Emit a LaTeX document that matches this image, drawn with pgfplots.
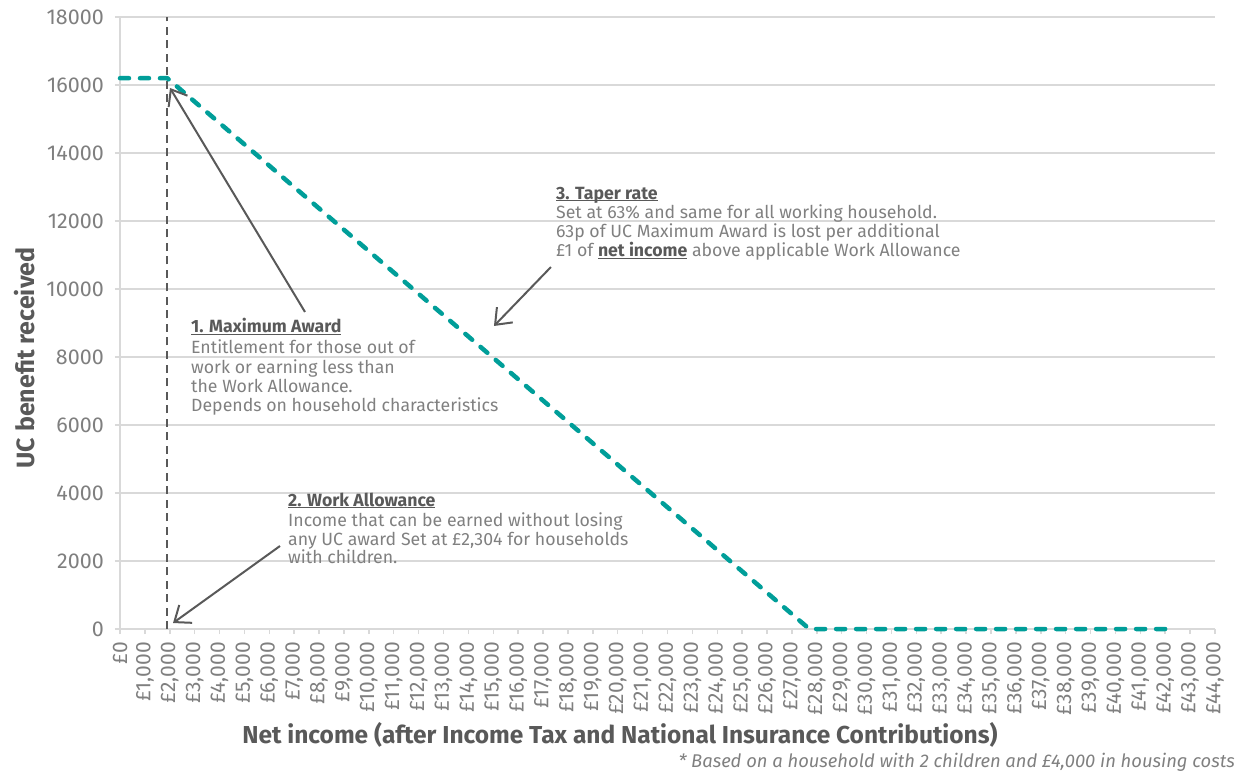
\documentclass[border=0pt]{standalone}
\usepackage{fontspec}
\setmainfont{Fira Sans}
\usepackage{pgfplots}
\pgfplotsset{compat=1.18}
\usetikzlibrary{arrows.meta}
\definecolor{tealc}{RGB}{0,158,153}
\definecolor{dgray}{RGB}{89,89,89}
\definecolor{lgray}{RGB}{217,217,217}
\definecolor{tgray}{RGB}{127,127,127}
\definecolor{bgray}{RGB}{128,128,128}
\newcommand{\ul}[1]{\setbox0\hbox{#1}\rlap{\rule[-2.2pt]{\wd0}{1.3pt}}\box0}
\newcommand{\bodyf}{\fontsize{17.7}{19.5}\selectfont}
\newcommand{\headf}{\fontsize{17.7}{19.5}\selectfont\bfseries}
\begin{document}
\begin{tikzpicture}
\begin{axis}[
  at={(0,0)}, anchor=south west,
  scale only axis, width=1095pt, height=612pt,
  xmin=0, xmax=44000, ymin=0, ymax=18000,
  xtick distance=1000, ytick distance=2000,
  scaled ticks=false,
  axis x line*=bottom, axis y line*=left,
  tick pos=left, tick align=outside,
  major tick length=5pt,
  axis line style={lgray, line width=1.5pt},
  tick style={lgray, line width=1.5pt},
  ymajorgrids, grid style={lgray, line width=1.5pt},
  /pgf/number format/assume math mode=true,
  xticklabel={£\pgfmathprintnumber{\tick}},
  xticklabel style={rotate=90, anchor=east, inner sep=0pt, text=tgray,
    font=\fontsize{21}{21}\selectfont,
    /pgf/number format/1000 sep={,}, /pgf/number format/fixed, /pgf/number format/precision=0},
  yticklabel style={anchor=east, inner sep=0pt, text=tgray,
    font=\fontsize{21.5}{21.5}\selectfont,
    /pgf/number format/1000 sep={}, /pgf/number format/fixed, /pgf/number format/precision=0},
  xticklabel shift=8pt, yticklabel shift=11pt,
  clip=false,
]
\addplot[dgray, line width=2.3pt, dash pattern=on 8pt off 5.5pt] coordinates {(1900,0) (1900,18000)};
\addplot[tealc, line width=4.5pt, dash pattern=on 9pt off 11pt, line cap=round, line join=round] coordinates {(0,16200) (1900,16200) (27700,0) (42000,0)};
\draw[dgray, line width=2pt, -{Straight Barb[length=14pt,width=22pt]}] (axis cs:7434,9324) -- (axis cs:2009,15912);
\draw[dgray, line width=2pt, -{Straight Barb[length=14pt,width=22pt]}] (axis cs:6429,2441) -- (axis cs:2130,176);
\draw[dgray, line width=2pt, -{Straight Barb[length=14pt,width=22pt]}] (axis cs:17318,10647) -- (axis cs:15028,8912);
\end{axis}
% annotation 1
\node[anchor=base west, inner sep=0pt, text=dgray, font=\headf] at (71pt,296pt) {\ul{1. Maximum Award}};
\node[anchor=base west, inner sep=0pt, text=bgray, font=\bodyf] at (71pt,275pt) {Entitlement for those out of};
\node[anchor=base west, inner sep=0pt, text=bgray, font=\bodyf] at (71pt,255.5pt) {work or earning less than};
\node[anchor=base west, inner sep=0pt, text=bgray, font=\bodyf] at (71pt,236pt) {the Work Allowance.};
\node[anchor=base west, inner sep=0pt, text=bgray, font=\bodyf] at (71pt,217pt) {Depends on household characteristics};
% annotation 2
\node[anchor=base west, inner sep=0pt, text=dgray, font=\headf] at (168pt,123pt) {\ul{2. Work Allowance}};
\node[anchor=base west, inner sep=0pt, text=bgray, font=\bodyf] at (168pt,103pt) {Income that can be earned without losing};
\node[anchor=base west, inner sep=0pt, text=bgray, font=\bodyf] at (168pt,84pt) {any UC award Set at £2,304 for households};
\node[anchor=base west, inner sep=0pt, text=bgray, font=\bodyf] at (168pt,66pt) {with children.};
% annotation 3
\node[anchor=base west, inner sep=0pt, text=dgray, font=\headf] at (436pt,429.7pt) {\ul{3. Taper rate}};
\node[anchor=base west, inner sep=0pt, text=bgray, font=\bodyf] at (436pt,410.7pt) {Set at 63\% and same for all working household.};
\node[anchor=base west, inner sep=0pt, text=bgray, font=\bodyf] at (436pt,391.3pt) {63p of UC Maximum Award is lost per additional};
\node[anchor=base west, inner sep=0pt, text=bgray, font=\bodyf] at (436pt,372.3pt) {£1 of \textcolor{dgray}{\ul{\bfseries net income}} above applicable Work Allowance};
% axis titles
\node[anchor=base, inner sep=0pt, text=dgray, font=\fontsize{24.5}{24.5}\selectfont\bfseries] at (500pt,-114pt) {Net income (after Income Tax and National Insurance Contributions)};
\node[anchor=base, rotate=90, inner sep=0pt, text=dgray, font=\fontsize{25}{25}\selectfont\bfseries] at (-85pt,271pt) {UC benefit received};
\node[anchor=base east, inner sep=0pt, text=bgray, font=\fontsize{18.4}{18.4}\selectfont\itshape] at (1115pt,-138pt) {* Based on a household with 2 children and £4,000 in housing costs};
\pgfresetboundingbox
\path[use as bounding box] (-120pt,-145pt) rectangle (1119pt,629pt);
\end{tikzpicture}
\end{document}
